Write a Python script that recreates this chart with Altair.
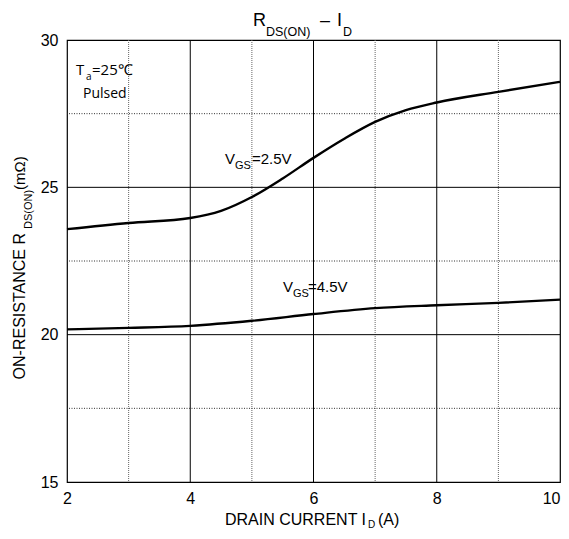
import altair as alt
import pandas as pd

# ---- data ----
id_25 = [2, 3, 4, 4.5, 5, 5.5, 6, 6.5, 7, 7.5, 8, 9, 10]
r_25 = [23.58, 23.79, 23.96, 24.2, 24.67, 25.3, 26.0, 26.65, 27.22, 27.62, 27.88, 28.24, 28.58]
id_45 = [2, 3, 4, 5, 6, 7, 8, 9, 10]
r_45 = [20.18, 20.23, 20.3, 20.47, 20.7, 20.9, 21.0, 21.08, 21.19]

x_ticks = [2, 4, 6, 8, 10]
y_ticks = [15, 20, 25, 30]
x_solid = [4, 6, 8]
x_dotted = [3, 5, 7, 9]
y_solid = [20, 25]
y_dotted = [17.5, 22.5, 27.5]

W, H = 493, 442
FONT = "Liberation Sans"

df = pd.concat([
    pd.DataFrame({"id": id_25, "r": r_25, "s": "2.5"}),
    pd.DataFrame({"id": id_45, "r": r_45, "s": "4.5"}),
])

xs = alt.Scale(domain=[2, 10], nice=False, zero=False)
ys = alt.Scale(domain=[15, 30], nice=False, zero=False)

x_axis = alt.Axis(values=x_ticks, format="d", grid=False, ticks=False, domain=False, title=None,
                  labelFont=FONT, labelFontSize=16, labelColor="black", labelPadding=8,
                  labelFlush=False,
                  labelAlign={"condition": {"test": "datum.value == 10", "value": "right"},
                              "value": "center"})
y_axis = alt.Axis(values=y_ticks, format="d", grid=False, ticks=False, domain=False, title=None,
                  labelFont=FONT, labelFontSize=16, labelColor="black", labelPadding=9)

lines = alt.Chart(df).mark_line(color="black", strokeWidth=2.4, interpolate="monotone").encode(
    x=alt.X("id:Q", scale=xs, axis=x_axis),
    y=alt.Y("r:Q", scale=ys, axis=y_axis),
    detail="s:N",
)

def vrules(vals, dash, color):
    return alt.Chart(pd.DataFrame({"v": vals})).mark_rule(
        color=color, strokeWidth=1, strokeDash=dash).encode(x=alt.X("v:Q", scale=xs))

def hrules(vals, dash, color):
    return alt.Chart(pd.DataFrame({"v": vals})).mark_rule(
        color=color, strokeWidth=1, strokeDash=dash).encode(y=alt.Y("v:Q", scale=ys))

grid = [
    vrules(x_solid, [1, 0], "black"),
    vrules(x_dotted, [1, 1], "#666666"),
    hrules(y_solid, [1, 0], "black"),
    hrules(y_dotted, [1, 1.5], "#333333"),
]

def txt(s, x, y, size, font=FONT, align="left", angle=0, baseline="alphabetic"):
    return alt.Chart(alt.Data(values=[{"a": 1}])).mark_text(
        text=s, font=font, fontSize=size, align=align, baseline=baseline,
        angle=angle, color="black").encode(x=alt.value(x), y=alt.value(y))

OX, OY = 67, 40  # page position of plot origin
texts = [
    # title
    txt("R", 253 - OX, 26 - OY, 18),
    txt("DS(ON)", 266 - OX, 36 - OY, 12.5),
    txt("–", 325 - OX, 26 - OY, 18, align="center"),
    txt("I", 337 - OX, 26 - OY, 18),
    txt("D", 343 - OX, 36 - OY, 12.5),
    # x-axis title
    txt("DRAIN CURRENT I", 366 - OX, 525 - OY, 16, align="right"),
    txt("D", 368 - OX, 528 - OY, 10),
    txt("(A)", 378 - OX, 525 - OY, 16),
    # y-axis title (rotated)
    txt("ON-RESISTANCE R", 25 - OX, 233 - OY, 16, align="right", angle=270),
    txt("DS(ON)", 32 - OX, 229 - OY, 11, angle=270),
    txt("(mΩ)", 25 - OX, 190 - OY, 15, angle=270),
    # annotations
    txt("T", 76 - OX, 75 - OY, 15, font="Open Sans"),
    txt("a", 86 - OX, 80 - OY, 10, font="Open Sans"),
    txt("=25℃", 92 - OX, 75 - OY, 15, font="Open Sans"),
    txt("Pulsed", 83 - OX, 98 - OY, 14, font="Open Sans"),
    txt("V", 225 - OX, 164 - OY, 15),
    txt("GS", 235 - OX, 169 - OY, 11),
    txt("=2.5V", 252 - OX, 164 - OY, 15),
    txt("V", 283 - OX, 292 - OY, 15),
    txt("GS", 293 - OX, 297 - OY, 11),
    txt("=4.5V", 308 - OX, 292 - OY, 15),
]

chart = alt.layer(*grid, lines, *texts).properties(
    width=W, height=H,
    autosize=alt.AutoSizeParams(type="none"),
    padding={"left": 59, "top": 32, "right": 1, "bottom": 49},
    background="white",
).configure_view(stroke="black", strokeWidth=1.2)

chart.save("out.html", embed_options={"renderer": "svg", "actions": False})
